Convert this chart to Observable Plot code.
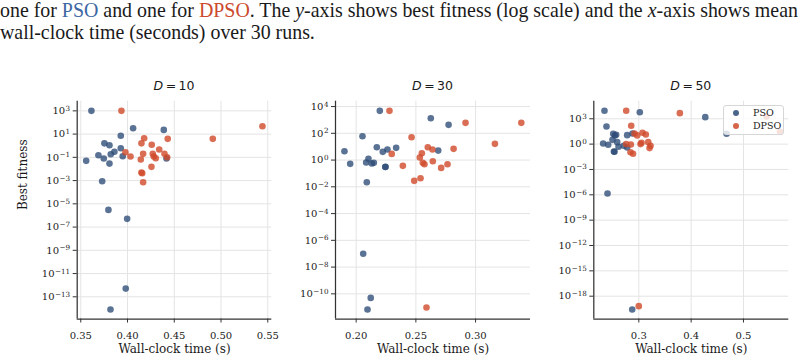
<!DOCTYPE html>
<html>
<head>
<meta charset="utf-8">
<script src="https://cdn.jsdelivr.net/npm/d3@7"></script>
<script src="https://cdn.jsdelivr.net/npm/@observablehq/plot@0.6"></script>
<style>
  body { margin: 0; background: #fff; }
  #wrap { position: relative; width: 805px; height: 364px; overflow: hidden; }
  .caption { position: absolute; left: 0; font-family: "Liberation Serif", serif;
             font-size: 19.9px; line-height: 18px; height: 22px; color: #1a1a1a; white-space: nowrap; }
  .caption .pso { color: #3d67a3; }
  .caption .dpso { color: #cc4a2e; }
  .panel { position: absolute; top: 70px; }
  .panel svg text { font-family: "DejaVu Serif", serif; }
  .title { position: absolute; top: 78px; font-family: "DejaVu Sans", sans-serif; font-size: 12.5px;
           line-height: 15px; transform: translateX(-50%); white-space: nowrap; color: #1a1a1a; }
  .legend { position: absolute; left: 723px; top: 105px; width: 59px; height: 28px;
            background: rgba(255,255,255,0.8); border: 1px solid #d6d6d6; border-radius: 3px;
            font-family: "DejaVu Serif", serif; font-size: 9.5px; color: #1a1a1a; }
  .legend .row { position: absolute; left: 0; height: 12px; line-height: 12px; }
  .legend .sw { position: absolute; left: 9px; top: 3px; width: 6px; height: 6px; border-radius: 50%; }
  .legend .lb { position: absolute; left: 29px; top: 0; }
</style>
</head>
<body>
<div id="wrap">
  <div class="caption" style="top:1px">one for <span class="pso">PSO</span> and one for <span class="dpso">DPSO</span>. The <i>y</i>-axis shows best fitness (log scale) and the <i>x</i>-axis shows mean</div>
  <div class="caption" style="top:23px">wall-clock time (seconds) over 30 runs.</div>
</div>
<script>
// Mean wall-clock time (s) and best fitness per benchmark, for each dimension D.
const d10PsoTime  = [0.3614, 0.4060, 0.4388, 0.3928, 0.3753, 0.3807, 0.3928, 0.3860, 0.3821, 0.3689, 0.3746, 0.3949, 0.3558, 0.3807, 0.4417, 0.3729, 0.3796, 0.3996, 0.3981, 0.3818];
const d10PsoFit   = [1.0e3, 32, 23, 7.1, 1.6, 1.1, 0.61, 0.30, 0.185, 0.15, 0.079, 0.124, 0.050, 0.029, 0.079, 8.8e-4, 3.0e-6, 5.1e-7, 5.1e-13, 8.1e-15];
const d10DpsoTime = [0.3935, 0.5443, 0.4912, 0.4178, 0.4430, 0.4149, 0.4259, 0.4339, 0.3978, 0.4167, 0.4270, 0.4395, 0.4032, 0.4142, 0.4281, 0.4302, 0.4424, 0.4256, 0.4149, 0.4157, 0.4167];
const d10DpsoFit  = [1.0e3, 47, 3.9, 4.4, 3.9, 1.6, 1.2, 0.47, 0.27, 0.20, 0.20, 0.20, 0.117, 0.065, 0.117, 0.084, 0.102, 0.0152, 0.0049, 0.0043, 7.2e-4];

const d30PsoTime  = [0.2198, 0.2625, 0.2774, 0.2053, 0.1902, 0.2173, 0.2223, 0.2262, 0.2335, 0.2687, 0.1950, 0.2103, 0.2084, 0.2131, 0.2148, 0.2246, 0.2244, 0.2089, 0.2059, 0.2122, 0.2095];
const d30PsoFit   = [4770, 1340, 427, 60, 4.6, 9.1, 4.1, 6.1, 8.2, 5.1, 0.52, 1.23, 0.65, 0.55, 0.62, 0.31, 0.30, 0.022, 1.0e-7, 5.0e-11, 6.7e-12];
const d30DpsoTime = [0.2279, 0.2464, 0.2298, 0.2391, 0.2600, 0.2639, 0.2550, 0.2533, 0.2558, 0.2572, 0.2642, 0.2539, 0.2486, 0.2916, 0.3383, 0.3162, 0.2816, 0.2765, 0.2712, 0.2589];
const d30DpsoFit  = [4770, 51, 2.9, 0.37, 9.1, 6.1, 3.2, 1.55, 0.62, 0.49, 0.81, 0.044, 0.028, 603, 603, 16.3, 6.9, 0.49, 0.26, 9.5e-12];

const d50PsoTime  = [0.2344, 0.3019, 0.4270, 0.4677, 0.2382, 0.2511, 0.2568, 0.2541, 0.2778, 0.2880, 0.2497, 0.2319, 0.2415, 0.2587, 0.2612, 0.2713, 0.2778, 0.2535, 0.2525, 0.2402, 0.2874];
const d50PsoFit   = [8900, 6000, 1550, 16.6, 123, 16.6, 12.6, 10.5, 11.5, 18, 3.2, 1.2, 0.83, 1.7, 0.49, 0.63, 0.40, 0.123, 0.13, 1.4e-6, 2.7e-20];
const d50DpsoTime = [0.2759, 0.3784, 0.5442, 0.5696, 0.2855, 0.2918, 0.3071, 0.3134, 0.2969, 0.2759, 0.2848, 0.3033, 0.3052, 0.3180, 0.3224, 0.3205, 0.2841, 0.2890, 0.3000];
const d50DpsoFit  = [8900, 4600, 1870, 31, 148, 18, 22, 14, 10.7, 1.0, 0.9, 1.0, 1.45, 1.7, 0.63, 0.34, 0.11, 0.072, 6.6e-20];

// Axis ticks per panel
const d10XTicks = [0.35, 0.40, 0.45, 0.50, 0.55];
const d10YTicks = [1e3, 1e1, 1e-1, 1e-3, 1e-5, 1e-7, 1e-9, 1e-11, 1e-13];
const d30XTicks = [0.20, 0.25, 0.30];
const d30YTicks = [1e4, 1e2, 1e0, 1e-2, 1e-4, 1e-6, 1e-8, 1e-10];
const d50XTicks = [0.3, 0.4, 0.5];
const d50YTicks = [1e3, 1e0, 1e-3, 1e-6, 1e-9, 1e-12, 1e-15, 1e-18];

const BLUE = "#2b4a76";
const RED = "#cf4a2a";
const SPINE = "#333333";
const GRID = "#e4e4e4";
const SERIF = "DejaVu Serif, serif";

// Power-of-ten tick labels: "10^e" is expanded into a base and a raised exponent after rendering.
const powerOfTen = v => "10^" + Math.round(Math.log10(v));
function raiseExponents(svg) {
  d3.select(svg).selectAll("text").each(function () {
    const s = this.textContent;
    if (!/^10\^-?\d+$/.test(s)) return;
    const e = s.slice(3).replace("-", "\u2212");
    const t = d3.select(this);
    t.text("10");
    t.append("tspan").attr("dy", "-0.45em").attr("dx", "0.5").attr("font-size", "7.2px").text(e);
  });
}

const rows = (ts, fs) => ts.map((t, i) => ({t, f: fs[i]}));

const wrap = document.getElementById("wrap");
const TOP = 70, H = 294, FRAME_TOP = 100.7, FRAME_BOTTOM = 318.5;

function panel({title, frameLeft, frameRight, svgLeft, svgWidth, xDomain, xTicks, xDigits, yDomain, yTicks, pso, dpso, yLabel}) {
  const marks = [
    Plot.gridX(xTicks, {stroke: GRID, strokeOpacity: 1, strokeWidth: 1}),
    Plot.gridY(yTicks, {stroke: GRID, strokeOpacity: 1, strokeWidth: 1}),
    Plot.axisX(xTicks, {tickFormat: d => d.toFixed(xDigits), tickSize: 4, tickPadding: 8.5, label: null, stroke: SPINE, fontFamily: SERIF, fontSize: 10}),
    Plot.axisY(yTicks, {tickFormat: powerOfTen, tickSize: 4, tickPadding: 3, label: null, stroke: SPINE, fontFamily: SERIF, fontSize: 10}),
    Plot.ruleX([xDomain[0]], {stroke: SPINE, strokeWidth: 1.25}),
    Plot.ruleY([yDomain[0]], {stroke: SPINE, strokeWidth: 1.25}),
    Plot.dot(pso, {x: "t", y: "f", r: 3.3, fill: BLUE, fillOpacity: 0.78, stroke: null}),
    Plot.dot(dpso, {x: "t", y: "f", r: 3.3, fill: RED, fillOpacity: 0.8, stroke: null}),
    Plot.text(["Wall-clock time (s)"], {text: d => d, frameAnchor: "bottom", dy: 33.5, fontSize: 12, fontFamily: SERIF, fill: "#1a1a1a"})
  ];
  if (yLabel) {
    marks.push(Plot.text([yLabel], {text: d => d, frameAnchor: "left", rotate: -90, dx: -54, fontSize: 12, fontFamily: SERIF, fill: "#1a1a1a"}));
  }
  const chart = Plot.plot({
    width: svgWidth,
    height: H,
    marginLeft: frameLeft - svgLeft,
    marginRight: svgLeft + svgWidth - frameRight,
    marginTop: FRAME_TOP - TOP,
    marginBottom: TOP + H - FRAME_BOTTOM,
    style: {fontFamily: SERIF, fontSize: "10px", color: "#1a1a1a", background: "transparent", overflow: "visible"},
    x: {domain: xDomain},
    y: {type: "log", domain: yDomain},
    marks
  });
  raiseExponents(chart);
  const box = document.createElement("div");
  box.className = "panel";
  box.style.left = svgLeft + "px";
  box.appendChild(chart);
  wrap.appendChild(box);

  const t = document.createElement("div");
  t.className = "title";
  t.style.left = ((frameLeft + frameRight) / 2) + "px";
  t.innerHTML = "<i>D</i>\u2009=\u2009" + title;
  wrap.appendChild(t);
}

panel({title: "10", frameLeft: 76.7, frameRight: 271.3, svgLeft: 0, svgWidth: 280,
       xDomain: [0.3462, 0.5543], xTicks: d10XTicks, xDigits: 2,
       yDomain: [Math.pow(10, -14.91), Math.pow(10, 3.83)], yTicks: d10YTicks,
       pso: rows(d10PsoTime, d10PsoFit), dpso: rows(d10DpsoTime, d10DpsoFit), yLabel: "Best fitness"});

panel({title: "30", frameLeft: 335, frameRight: 530, svgLeft: 280, svgWidth: 255,
       xDomain: [0.1827, 0.346], xTicks: d30XTicks, xDigits: 2,
       yDomain: [Math.pow(10, -11.88), Math.pow(10, 4.4)], yTicks: d30YTicks,
       pso: rows(d30PsoTime, d30PsoFit), dpso: rows(d30DpsoTime, d30DpsoFit)});

panel({title: "50", frameLeft: 593.3, frameRight: 788.3, svgLeft: 535, svgWidth: 270,
       xDomain: [0.214, 0.5866], xTicks: d50XTicks, xDigits: 1,
       yDomain: [Math.pow(10, -20.7), Math.pow(10, 5.08)], yTicks: d50YTicks,
       pso: rows(d50PsoTime, d50PsoFit), dpso: rows(d50DpsoTime, d50DpsoFit)});

// Legend for the series, drawn over the D = 50 panel
const legend = document.createElement("div");
legend.className = "legend";
[["PSO", BLUE, 1], ["DPSO", RED, 14]].forEach(([name, color, top]) => {
  const row = document.createElement("div");
  row.className = "row";
  row.style.top = top + "px";
  row.innerHTML = `<span class="sw" style="background:${color};opacity:0.85"></span><span class="lb">${name}</span>`;
  legend.appendChild(row);
});
wrap.appendChild(legend);
</script>
</body>
</html>
